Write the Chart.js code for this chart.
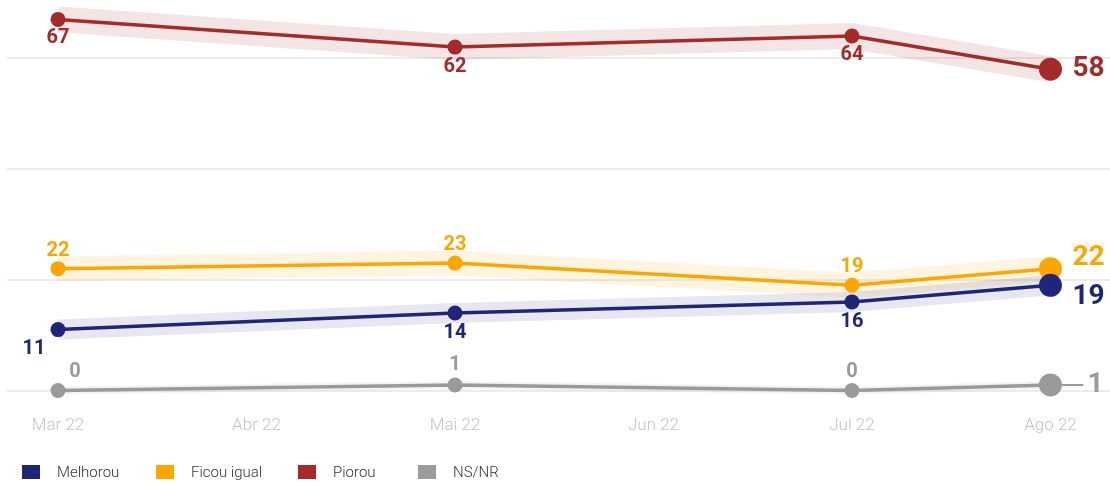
<!DOCTYPE html>
<html>
<head>
<meta charset="utf-8">
<script src="https://cdn.jsdelivr.net/npm/chart.js@4"></script>
<style>
  html, body { margin: 0; padding: 0; background: #fff; }
  #wrap { position: relative; width: 1110px; height: 483px; }
  #legend { position: absolute; left: 22px; top: 463px; font-family: Roboto, sans-serif; font-weight: 300; font-size: 15px; color: #333; display: flex; }
  #legend .it { display: flex; align-items: center; margin-right: 0; }
  #legend .sw { width: 18px; height: 14px; margin-right: 17px; }
</style>
</head>
<body>
<div id="wrap">
  <canvas id="c" width="1110" height="483"></canvas>
  <div id="legend"></div>
</div>
<script>
const months = ['Mar 22', 'Abr 22', 'Mai 22', 'Jun 22', 'Jul 22', 'Ago 22'];
const surveyIdx = [0, 2, 4, 5];
const melhorou = [11, 14, 16, 19];
const ficouIgual = [22, 23, 19, 22];
const piorou = [67, 62, 64, 58];
const nsnr = [0, 1, 0, 1];
const seriesNames = ['Melhorou', 'Ficou igual', 'Piorou', 'NS/NR'];
const seriesColors = ['#1f2679', '#ffa500', '#a52a2a', '#9a9a9a'];
const bandColors = ['rgba(31,38,121,0.11)', 'rgba(255,165,0,0.12)', 'rgba(165,42,42,0.12)', 'rgba(150,150,150,0.10)'];
const bandWidths = [20, 25, 26, 8];
const seriesValues = [melhorou, ficouIgual, piorou, nsnr];

// label placement per series/point: [dx, dy, align]
const labelPos = [
  [[-24, 19, 'center'], [0, 20, 'center'], [0, 20, 'center'], [22, 12, 'left']],
  [[0, -18, 'center'], [0, -18, 'center'], [0, -18, 'center'], [22, -11, 'left']],
  [[0, 19, 'center'], [0, 20, 'center'], [0, 19, 'center'], [22, 0, 'left']],
  [[17, -19, 'center'], [0, -20, 'center'], [0, -19, 'center'], [37, 0, 'left']]
];

const toPts = vals => vals.map((v, i) => ({ x: surveyIdx[i], y: v }));

const datasets = [];
seriesValues.forEach((vals, s) => {
  datasets.push({
    label: seriesNames[s],
    data: toPts(vals),
    borderColor: seriesColors[s],
    backgroundColor: seriesColors[s],
    borderWidth: 3.5,
    pointRadius: vals.map((v, i) => i === vals.length - 1 ? 11.5 : 7.5),
    pointHoverRadius: vals.map((v, i) => i === vals.length - 1 ? 11.5 : 7.5),
    pointBorderWidth: 0,
    tension: 0,
    order: 1,
    isMain: true,
    sIdx: s
  });
});
seriesValues.forEach((vals, s) => {
  datasets.push({
    label: seriesNames[s] + ' band',
    data: toPts(vals),
    borderColor: bandColors[s],
    borderWidth: bandWidths[s],
    borderCapStyle: 'butt',
    borderJoinStyle: 'round',
    pointRadius: 0,
    tension: 0,
    order: 10
  });
});

const labelPlugin = {
  id: 'valueLabels',
  afterDatasetsDraw(chart) {
    const ctx = chart.ctx;
    chart.data.datasets.forEach((ds, di) => {
      if (!ds.isMain) return;
      const s = ds.sIdx;
      const meta = chart.getDatasetMeta(di);
      meta.data.forEach((pt, i) => {
        const last = i === meta.data.length - 1;
        const [dx, dy, align] = labelPos[s][i];
        ctx.save();
        ctx.fillStyle = seriesColors[s];
        ctx.font = (last ? 'bold 28px' : 'bold 20px') + ' Roboto, sans-serif';
        ctx.textAlign = align;
        ctx.textBaseline = 'middle';
        if (s === 3 && last) {
          ctx.strokeStyle = seriesColors[s];
          ctx.lineWidth = 2;
          ctx.beginPath();
          ctx.moveTo(pt.x, pt.y);
          ctx.lineTo(pt.x + 33, pt.y);
          ctx.stroke();
        }
        ctx.fillText(String(ds.data[i].y), pt.x + dx, pt.y + dy);
        ctx.restore();
      });
    });
  }
};

new Chart(document.getElementById('c'), {
  type: 'line',
  data: { datasets },
  options: {
    responsive: false,
    animation: false,
    layout: { autoPadding: false, padding: { left: 7, right: 0, top: 0, bottom: 33 } },
    plugins: { legend: { display: false }, tooltip: { enabled: false } },
    scales: {
      x: {
        type: 'linear',
        min: -0.257,
        max: 5.3,
        afterBuildTicks: (scale) => { scale.ticks = months.map((m, i) => ({ value: i })); },
        ticks: {
          callback: (v) => months[v] ?? '',
          color: '#c4c4c4',
          font: { family: 'Roboto', size: 17, weight: 300 },
          padding: 14,
          maxRotation: 0,
          autoSkip: false
        },
        grid: { display: false, drawTicks: false },
        border: { display: false }
      },
      y: {
        display: true,
        min: -2,
        max: 70.5,
        afterBuildTicks: (scale) => { scale.ticks = [0, 20, 40, 60].map(v => ({ value: v })); },
        afterFit: (scale) => { scale.width = 0; },
        ticks: { display: false, padding: 0 },
        grid: { color: '#ececec', lineWidth: 2, drawTicks: false },
        border: { display: false }
      }
    }
  },
  plugins: [labelPlugin]
});

const leg = document.getElementById('legend');
seriesNames.forEach((n, i) => {
  const it = document.createElement('div');
  it.className = 'it';
  it.style.position = 'absolute';
  it.style.left = [0, 134, 276, 396][i] + 'px';
  it.style.whiteSpace = 'nowrap';
  it.innerHTML = '<span class="sw" style="background:' + seriesColors[i] + '"></span><span>' + n + '</span>';
  leg.appendChild(it);
});
</script>
</body>
</html>
